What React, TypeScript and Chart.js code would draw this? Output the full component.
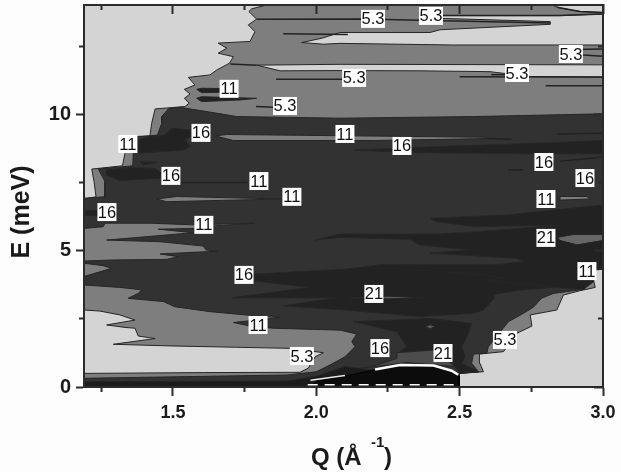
import React, { useEffect, useRef } from "react";
import { Chart, registerables } from "chart.js";

Chart.register(...registerables);

type P = [number, number];

const qMin = 1.19, qMax = 3.0, eMin = 0, eMax = 14.04;
const qMajor = [1.5, 2.0, 2.5, 3.0];
const qMinor = [1.25, 1.75, 2.25, 2.75];
const eMajor = [0, 5, 10];
const eMinor = [2.5, 7.5, 12.5];

const labelText = ["5.3","5.3","5.3","5.3","5.3","11","5.3","11","16","11","16","16","16","11","16","11","11","16","11","21","16","11","21","11","5.3","16","21","5.3"];
const labelQ = [2.198,2.40,2.888,2.70,2.132,1.696,1.891,1.343,1.598,2.10,2.299,2.794,1.493,1.80,2.937,1.915,2.801,1.27,1.608,2.801,1.748,2.944,2.201,1.797,1.95,2.222,2.442,2.658];
const labelE = [13.53,13.64,12.24,11.54,11.36,10.96,10.33,8.93,9.34,9.30,8.86,8.27,7.76,7.57,7.68,6.99,6.91,6.43,5.96,5.48,4.12,4.26,3.42,2.28,1.14,1.43,1.25,1.73];

const level53: P[] = [[1.827,14.04],[1.775,13.9],[1.765,13.8],[1.792,13.52],[1.763,13.31],[1.786,13.06],[1.769,12.7],[1.658,12.64],[1.688,12.45],[1.658,12.27],[1.711,12.14],[1.697,11.9],[1.653,11.65],[1.629,11.47],[1.554,11.38],[1.577,11.1],[1.54,10.94],[1.56,10.77],[1.54,10.61],[1.557,10.43],[1.542,10.31],[1.438,10.22],[1.426,9.69],[1.42,9.23],[1.315,9.18],[1.333,8.59],[1.324,8.13],[1.217,8.01],[1.225,7.55],[1.232,6.99],[1.19,6.91],[1.19,0],[2.499,0],[2.499,0.5],[2.583,0.56],[2.571,0.87],[2.569,1.21],[2.653,1.3],[2.699,1.97],[2.752,2.24],[2.746,2.65],[2.839,2.83],[2.862,3.38],[2.92,3.54],[2.973,3.66],[2.967,3.93],[2.973,4.3],[3.0,4.33],[3.0,14.04]];

const lightTop: P[] = [[1.949,12.66],[2.02,12.82],[2.083,13.03],[2.397,13.03],[2.432,13.13],[2.816,13.33],[2.816,13.43],[2.432,13.55],[2.362,13.65],[2.85,13.65],[3.0,13.71],[3.0,12.57],[2.839,12.57],[2.478,12.57],[2.083,12.63],[2.025,12.6]];
const lightCorner: P[] = [[2.82,14.04],[3.0,14.04],[3.0,13.76],[2.92,13.8],[2.85,13.93]];
const lightMid: P[] = [[1.792,11.83],[2.083,11.86],[3.0,11.84],[3.0,11.39],[2.746,11.41],[2.606,11.59],[2.362,11.62],[2.083,11.63],[1.874,11.62]];
const lightLow: P[] = [[1.19,2.83],[1.246,2.79],[1.315,2.65],[1.368,2.46],[1.269,2.28],[1.333,2.19],[1.368,2.16],[1.379,1.875],[1.438,1.78],[1.292,1.57],[1.49,1.51],[1.722,1.46],[1.908,1.42],[2.025,1.26],[1.996,1.11],[1.972,0.69],[1.943,0.54],[1.606,0.53],[1.19,0.5]];

const level11: P[] = [[3.0,10.04],[2.548,9.94],[2.083,9.88],[1.722,9.94],[1.66,10.05],[1.525,10.28],[1.484,10.22],[1.461,9.94],[1.461,9.69],[1.446,9.26],[1.42,9.23],[1.36,9.18],[1.362,8.59],[1.36,8.13],[1.24,8.01],[1.263,7.55],[1.263,6.99],[1.19,6.94],[1.19,5.83],[1.257,5.89],[1.263,6.02],[1.42,6.02],[1.571,5.96],[1.786,6.02],[1.641,5.92],[1.571,5.83],[1.449,5.8],[1.571,5.67],[1.269,5.4],[1.455,5.34],[1.606,5.18],[1.615,5.04],[1.658,4.98],[1.629,4.98],[1.455,4.89],[1.519,4.79],[1.478,4.69],[1.292,4.67],[1.19,4.63],[1.19,3.75],[1.315,3.66],[1.391,3.57],[1.379,3.44],[1.344,3.26],[1.467,3.14],[1.507,2.95],[1.629,2.77],[1.815,2.59],[1.874,2.56],[1.711,2.37],[1.769,2.24],[1.85,2.16],[2.083,2.09],[2.141,1.95],[2.124,1.67],[2.135,1.48],[2.1,1.11],[2.048,0.81],[2.0,0.56],[1.897,0.44],[1.19,0.32],[1.19,0],[2.499,0],[2.499,0.5],[2.566,0.56],[2.542,0.87],[2.548,1.21],[2.595,1.24],[2.6,1.48],[2.67,2.4],[2.723,2.71],[2.757,2.93],[2.786,3.26],[2.827,3.44],[2.932,3.59],[2.949,3.81],[2.967,3.87],[2.967,4.3],[3.0,4.36]];

const grayWedge: P[] = [[1.19,4.55],[1.257,4.46],[1.286,4.36],[1.19,4.06]];
const grayStreakA: P[] = [[1.647,9.23],[1.688,9.28],[2.129,9.23],[2.583,9.18],[2.595,9.13],[2.199,9.06],[1.711,9.06]];
const grayStreakB: P[] = [[1.443,6.91],[1.513,7.0],[1.885,6.91],[1.734,6.875],[1.478,6.81]];
const grayStreakC: P[] = [[2.85,7.0],[2.943,7.0],[2.955,6.91],[2.85,6.87]];
const grayPatch: P[] = [[2.839,5.5],[2.897,5.61],[3.0,5.61],[3.0,5.38],[2.909,5.22],[2.85,5.38]];

const level16a: P[] = [[1.379,9.08],[1.42,9.2],[1.472,9.26],[1.496,9.51],[1.56,9.45],[1.56,9.2],[1.542,9.08],[1.56,8.84],[1.536,8.71],[1.379,8.59]];
const level16b: P[] = [[1.269,7.98],[1.35,8.06],[1.437,8.04],[1.461,7.85],[1.455,7.67],[1.315,7.59],[1.269,7.79]];
const level16c: P[] = [[1.385,8.28],[1.449,8.26],[1.397,8.16]];
const level16d: P[] = [[2.13,8.71],[2.432,8.84],[2.781,8.96],[3.0,9.06],[3.0,8.57],[2.781,8.57],[2.316,8.62]];
const level16e: P[] = [[2.397,6.2],[2.664,6.32],[3.0,6.69],[3.0,5.61],[2.897,5.61],[2.839,5.5],[2.85,5.38],[2.909,5.22],[3.0,5.38],[3.0,4.36],[2.967,4.3],[2.967,3.87],[2.932,3.59],[2.827,3.66],[2.583,3.93],[2.653,4.0],[2.583,4.12],[2.362,4.3],[2.153,4.39],[2.223,4.49],[2.63,4.49],[2.723,4.61],[2.699,4.73],[2.397,4.92],[2.536,5.04],[2.362,5.22],[2.327,5.43],[2.083,5.5],[1.996,5.4],[2.083,5.62],[2.43,5.62],[2.62,5.75],[2.85,5.95],[2.55,5.9],[2.42,6.08]];
const level16f: P[] = [[1.786,4.15],[2.1,4.33],[2.153,4.39],[2.362,4.3],[2.583,4.12],[2.653,4.0],[2.583,3.93],[2.827,3.66],[2.7,3.55],[2.62,3.4],[2.618,3.22],[2.583,2.83],[2.548,2.71],[2.362,2.59],[2.1,2.83],[1.885,2.98],[2.071,3.28],[1.705,3.28],[1.978,3.66],[1.786,3.9]];
const level16g: P[] = [[2.13,2.4],[2.397,2.52],[2.542,2.34],[2.53,1.97],[2.507,1.48],[2.519,1.11],[2.507,0.87],[2.566,0.56],[2.499,0.5],[2.478,0.87],[2.409,1.36],[2.286,1.26],[2.316,1.48],[2.281,2.03]];
const level16h: P[] = [[1.19,6.48],[1.24,6.48],[1.24,6.3],[1.19,6.3]];
const streak21: P[] = [[2.112,3.28],[2.25,3.34],[2.368,3.28],[2.25,3.24]];
const blob21: P[] = [[2.38,2.22],[2.397,2.29],[2.414,2.22],[2.397,2.14]];
const level21: P[] = [[2.281,1.26],[2.409,1.36],[2.484,0.75],[2.316,0.9],[2.153,0.68],[2.211,0.81],[2.281,1.05]];
const baseBand: P[] = [[1.19,0.2],[1.9,0.22],[2.0,0.4],[2.1,0.75],[2.199,0.62],[2.199,0],[1.19,0]];
const core: P[] = [[2.199,0.62],[2.292,0.78],[2.409,0.78],[2.467,0.56],[2.499,0.38],[2.499,0],[1.98,0],[2.0,0.2],[2.1,0.4]];

const rimWhite: P[] = [[2.205,0.64],[2.292,0.81],[2.409,0.79],[2.472,0.6],[2.495,0.45]];
const dashWhite: P[] = [[1.97,0.08],[2.5,0.08]];
const spurWhite: P[] = [[1.98,0.25],[2.1,0.42]];
const thinLines: P[][] = [
  [[1.86,11.31],[2.1,11.31]],
  [[1.885,12.98],[2.11,12.96]],
  [[1.792,13.52],[2.158,13.53],[2.816,13.38]],
  [[2.362,13.65],[2.85,13.65],[3.0,13.71]],
  [[2.839,13.96],[2.92,13.8],[3.0,13.76]],
  [[1.79,10.31],[1.853,10.28]],
  [[1.7,11.87],[1.792,11.83]],
  [[2.61,11.48],[2.7,11.48]],
  [[2.8,11.07],[3.0,11.07]],
  [[2.5,11.4],[3.0,11.39]],
  [[2.93,12.2],[3.0,12.16]],
  [[2.9,12.4],[3.0,12.42]],
  [[2.595,9.13],[2.68,9.11]],
  [[2.84,9.3],[3.0,9.33]],
  [[2.67,7.98],[2.72,7.98]],
  [[1.53,7.52],[1.76,7.52]],
  [[2.85,8.3],[3.0,8.45]],
];

const darkStreaks: P[][] = [
  [[1.583,10.94],[1.6,10.98],[1.67,10.97],[1.67,10.83],[1.6,10.82]],
  [[1.583,10.61],[1.6,10.67],[1.792,10.61],[1.734,10.55],[1.6,10.49]],
];

const polygonFill = {
  id: "polygonFill",
  beforeDatasetDraw(chart: any, args: any) {
    const ds = chart.data.datasets[args.index];
    if (!ds.isArea) return;
    const pts = args.meta.data;
    const c = chart.ctx;
    c.save();
    const a = chart.chartArea;
    c.beginPath();
    c.rect(a.left, a.top, a.right - a.left, a.bottom - a.top);
    c.clip();
    c.beginPath();
    pts.forEach((p: any, i: number) => (i ? c.lineTo(p.x, p.y) : c.moveTo(p.x, p.y)));
    c.closePath();
    c.fillStyle = ds.backgroundColor;
    c.fill();
    c.restore();
  },
};

const contourLabels = {
  id: "contourLabels",
  afterDatasetsDraw(chart: any) {
    const c = chart.ctx;
    const x = chart.scales.x, y = chart.scales.y;
    c.save();
    c.font = "16.5px 'Liberation Sans'";
    c.textAlign = "center";
    c.textBaseline = "middle";
    labelText.forEach((t, i) => {
      const px = x.getPixelForValue(labelQ[i]);
      const py = y.getPixelForValue(labelE[i]);
      const w = t.length > 2 ? 24 : 19;
      c.fillStyle = "#ffffff";
      c.fillRect(px - w / 2, py - 9, w, 18);
      c.fillStyle = "#111111";
      c.fillText(t, px, py + 1);
    });
    c.restore();
  },
};

const axisTitles = {
  id: "axisTitles",
  afterDraw(chart: any) {
    const c = chart.ctx;
    c.save();
    c.fillStyle = "#1a1a1a";
    c.textBaseline = "alphabetic";
    c.textAlign = "left";
    c.font = "bold 24px 'Liberation Sans'";
    c.fillText("Q (Å", 311, 465);
    c.font = "bold 15px 'Liberation Sans'";
    c.fillText("-1", 371, 447);
    c.font = "bold 24px 'Liberation Sans'";
    c.fillText(")", 384, 465);
    c.translate(29, 212);
    c.rotate(-Math.PI / 2);
    c.textAlign = "center";
    c.font = "bold 25px 'Liberation Sans'";
    c.fillText("E (meV)", 0, 0);
    c.restore();
  },
};

const LIGHT = "#d4d4d4", GRAY = "#7e7e7e", DARK = "#323232", DEEP = "#222222", DEEPEST = "#0c0c0c", MID = "#4c4c4c";

function area(points: P[], fill: string, stroke = "#262626") {
  return {
    isArea: true,
    data: [...points, points[0]].map(([x, y]) => ({ x, y })),
    backgroundColor: fill,
    borderColor: stroke,
    borderWidth: 1,
    showLine: true,
    pointRadius: 0,
    tension: 0,
  };
}
function line(points: P[], color: string, width: number, dash: number[] = []) {
  return {
    data: points.map(([x, y]) => ({ x, y })),
    borderColor: color,
    borderWidth: width,
    borderDash: dash,
    showLine: true,
    pointRadius: 0,
    tension: 0,
  };
}

function sideAxis(position: string, values: number[], length: number, isX: boolean, main: boolean) {
  const scale: any = {
    type: "linear",
    position,
    min: isX ? qMin : eMin,
    max: isX ? qMax : eMax,
    weight: main ? 1 : 0,
    afterBuildTicks: (s: any) => {
      s.ticks = values.map((value) => ({ value }));
    },
    afterFit: (s: any) => {
      if (isX) s.height = position === "bottom" && main ? 85 : 0;
      else s.width = position === "left" && main ? 84 : 0;
      s.paddingTop = 0;
      s.paddingBottom = 0;
      s.paddingLeft = 0;
      s.paddingRight = 0;
    },
    border: { display: true, color: "#2b2b2b", width: 2, z: 2 },
    grid: { drawOnChartArea: false, drawTicks: true, tickLength: length, tickColor: "#2b2b2b", tickWidth: 2, z: 2 },
    ticks: { display: false, autoSkip: false, maxRotation: 0 },
    title: { display: false },
  };
  return scale;
}

export default function App() {
  const ref = useRef<HTMLCanvasElement>(null);
  useEffect(() => {
    const layers: any[] = [
      area([[qMin, eMin], [qMax, eMin], [qMax, eMax], [qMin, eMax]], LIGHT, LIGHT),
      area(level53, GRAY),
      area(lightTop, LIGHT),
      area(lightCorner, LIGHT),
      area(lightMid, LIGHT),
      area(lightLow, LIGHT),
      ...darkStreaks.map((p) => area(p, DEEP)),
      area(level11, DARK),
      area(grayWedge, GRAY),
      area(grayStreakA, GRAY),
      area(grayStreakB, GRAY),
      area(grayStreakC, GRAY),
      area(grayPatch, "#666666"),
      area(level16a, DEEP),
      area(level16b, DEEP),
      area(level16c, DEEP),
      area(level16d, DEEP),
      area(level16e, DEEP),
      area(level16f, DEEP),
      area(level16g, DEEP),
      area(level16h, DEEP),
      area(streak21, "#5a5a5a"),
      area(blob21, "#5a5a5a"),
      area(level21, MID),
      area(baseBand, "#1c1c1c"),
      area(core, DEEPEST, "#000000"),
      line(rimWhite, "#ffffff", 2.5),
      line(dashWhite, "#ffffff", 1.5, [10, 7]),
      line(spurWhite, "#e8e8e8", 1.5),
      ...thinLines.map((p) => line(p, "#222222", 1.5)),
    ];
    const mainX = sideAxis("bottom", qMajor, 9, true, true);
    mainX.ticks = {
      display: true,
      autoSkip: false,
      maxRotation: 0,
      padding: 6,
      color: "#1a1a1a",
      font: { family: "'Liberation Sans'", size: 18, weight: "bold" },
      callback: (v: number) => v.toFixed(1),
    };
    const mainY = sideAxis("left", eMajor, 8, false, true);
    mainY.ticks = {
      display: true,
      autoSkip: false,
      maxRotation: 0,
      padding: 5,
      color: "#1a1a1a",
      font: { family: "'Liberation Sans'", size: 20, weight: "bold" },
      callback: (v: number) => String(v),
    };
    const chart = new Chart(ref.current!, {
      type: "scatter",
      data: { datasets: layers.reverse() },
      plugins: [polygonFill, contourLabels, axisTitles],
      options: {
        responsive: false,
        animation: false,
        layout: { padding: { top: 5, right: 18, left: 0, bottom: 0 } },
        plugins: { legend: { display: false }, tooltip: { enabled: false } },
        scales: {
          x: mainX,
          xMinor: sideAxis("bottom", qMinor, 5, true, false),
          xTop: sideAxis("top", qMajor, -9, true, false),
          xTopMinor: sideAxis("top", qMinor, -5, true, false),
          y: mainY,
          yMinor: sideAxis("left", eMinor, 5, false, false),
          yRight: sideAxis("right", eMajor, -9, false, false),
          yRightMinor: sideAxis("right", eMinor, -5, false, false),
        },
      } as any,
    } as any);
    return () => chart.destroy();
  }, []);
  return (
    <div style={{ position: "fixed", left: 0, top: 0, width: 621, height: 472, background: "#fdfdfd" }}>
      <canvas ref={ref} width={621} height={472} style={{ display: "block" }} />
    </div>
  );
}
